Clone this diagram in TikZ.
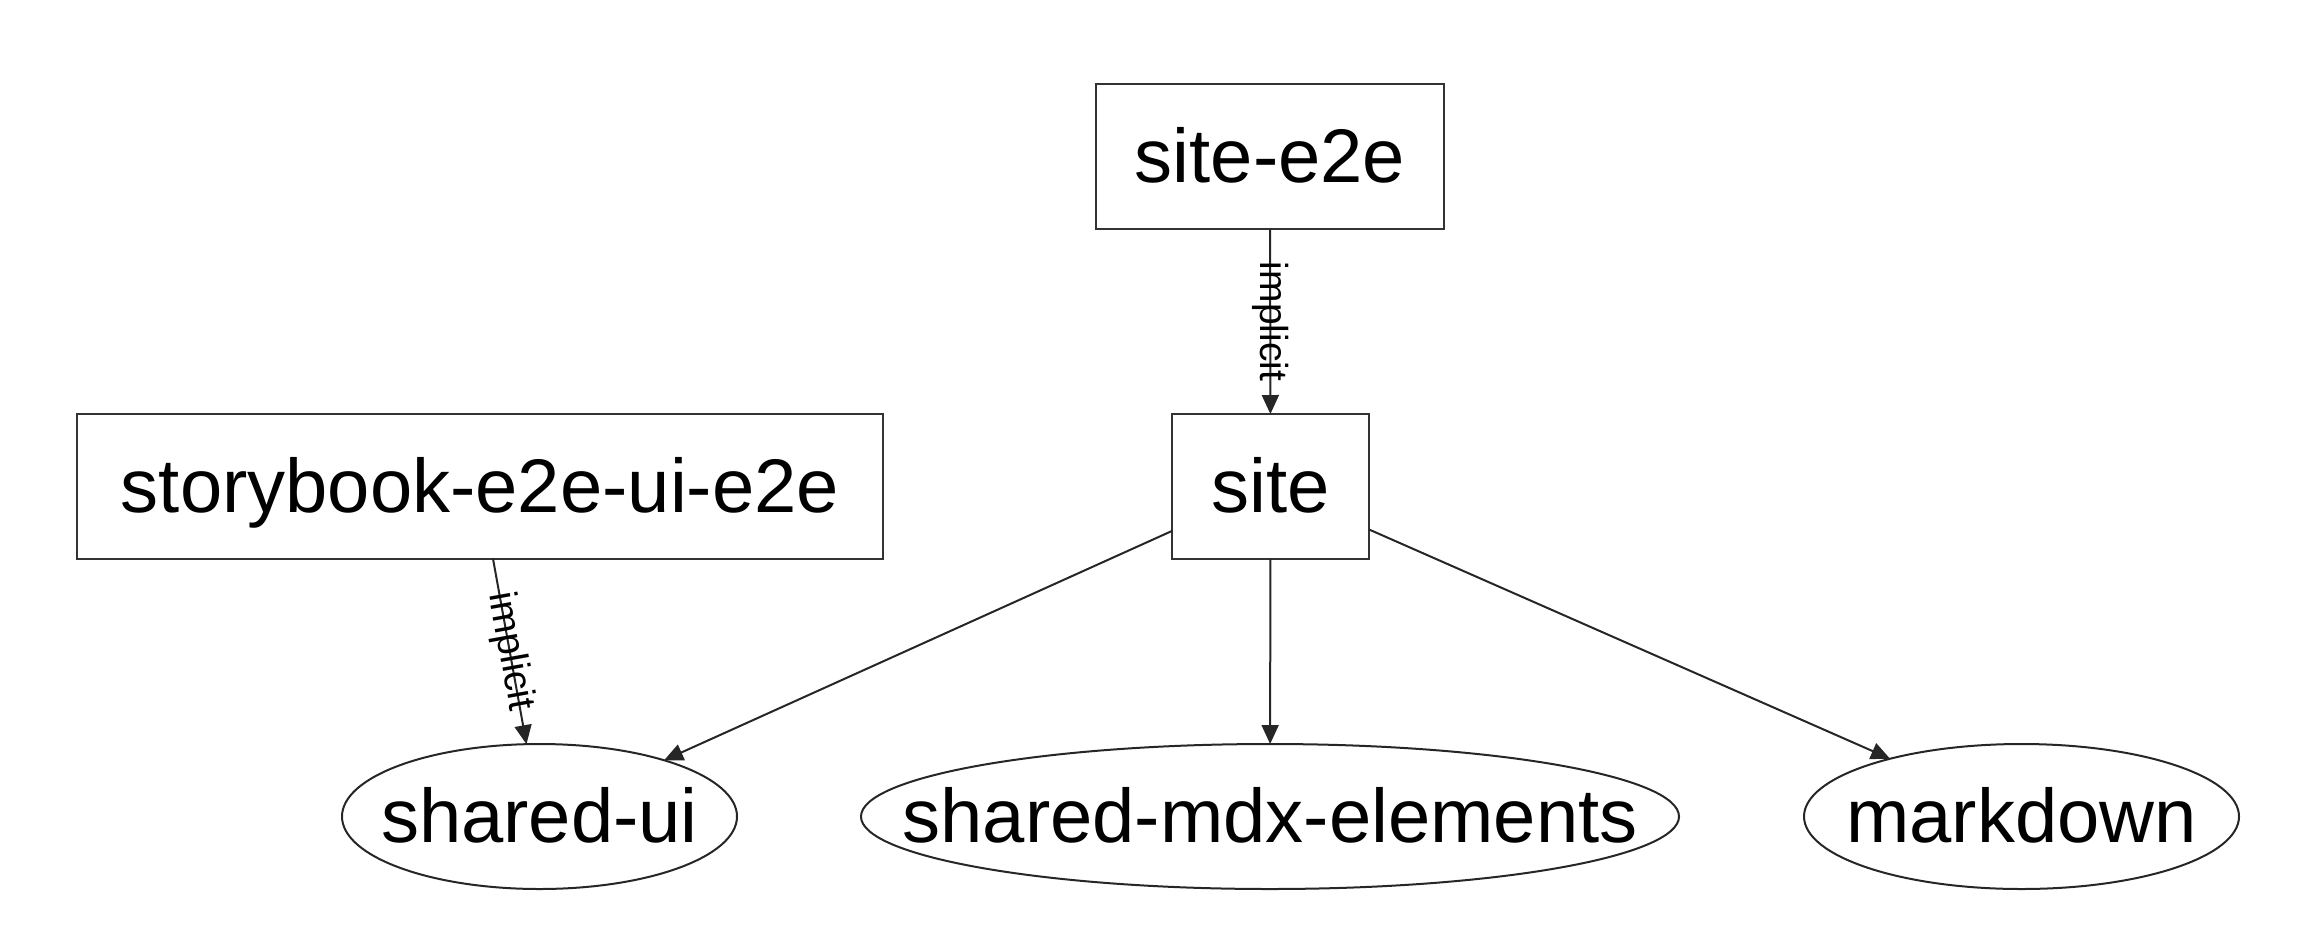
\documentclass[tikz,border=0pt]{standalone}
\usepackage{fontspec}
\setmainfont{Liberation Sans}
\usetikzlibrary{shapes.geometric,arrows.meta}
\begin{document}
\begin{tikzpicture}[x=1pt,y=-1pt,
  every node/.style={inner sep=0pt, outer sep=0pt, font=\fontsize{76}{90}\selectfont, text height=55pt, text depth=4pt},
  pbox/.style={draw=black!80, line width=2.4pt, rectangle, fill=white},
  pell/.style={draw=black!85, line width=2pt, ellipse},
  edge/.style={draw=black!85, line width=2pt, -{Triangle[length=19pt,width=17pt]}},
  elab/.style={font=\fontsize{39}{45}\selectfont, text height=28pt, text depth=8pt, sloped, allow upside down, midway}
]
\useasboundingbox (0,0) rectangle (2320,946);
\node[pbox, minimum width=348pt, minimum height=145pt] (e2e) at (1270,156.5) {site-e2e};
\node[pbox, minimum width=197pt, minimum height=145pt] (site) at (1270.5,486.5) {site};
\node[pbox, minimum width=806pt, minimum height=145pt] (sb) at (480,486.5) {storybook-e2e-ui-e2e};
\node[pell, minimum width=395pt, minimum height=145pt] (sui) at (539.5,816.5) {\makebox[0pt]{shared-ui}};
\node[pell, minimum width=818pt, minimum height=145pt] (mdx) at (1270,816.5) {\makebox[0pt]{shared-mdx-elements}};
\node[pell, minimum width=435pt, minimum height=145pt] (md) at (2021.5,816.5) {\makebox[0pt]{markdown}};
\draw[edge] (e2e) -- node[elab] (l1) {implicit} (site);
\draw[edge] (sb) -- node[elab] (l2) {implicit} (sui);
\draw[edge] (site) -- (sui);
\draw[edge] (site) -- (mdx);
\draw[edge] (site) -- (md);
\end{tikzpicture}
\end{document}
